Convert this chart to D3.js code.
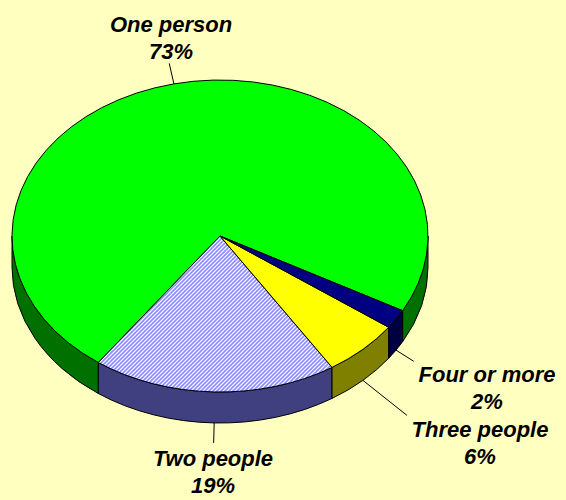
<!DOCTYPE html>
<html>
<head>
<meta charset="utf-8">
<script src="https://cdn.jsdelivr.net/npm/d3@7"></script>
<style>
  body { margin: 0; background: #FFFFC0; }
  svg { display: block; }
  .lbl { font-family: "Liberation Sans", Arial, sans-serif; font-weight: bold; font-style: italic; font-size: 22px; fill: #000; }
</style>
</head>
<body>
<div id="chart"></div>
<script>
// data
const categories = ["One person", "Two people", "Three people", "Four or more"];
const values = [73, 19, 6, 2];
const pctLabels = ["73%", "19%", "6%", "2%"];

// colours
const topColors = ["#00FF00", "url(#hatch)", "#FFFF00", "#000080"];
const sideColors = ["#007000", "#404080", "#808000", "#000040"];

// layout
const width = 566, height = 500;
const cx = 220, cy = 236, rx = 208, ry = 156, depth = 31;
const startDeg = 388.6; // screen angle where first slice begins, slices go counter-clockwise
const leaderLen = [21, 20, 53, 21];
const labelPos = [[171, 32], [213, 466], [480, 437], [487, 382]];

const svg = d3.select("#chart")
    .append("svg")
    .attr("width", width)
    .attr("height", height);

svg.append("rect")
    .attr("width", width)
    .attr("height", height)
    .attr("fill", "#FFFFC0");

// hatch pattern for the "Two people" slice
const pat = svg.append("defs").append("pattern")
    .attr("id", "hatch")
    .attr("patternUnits", "userSpaceOnUse")
    .attr("width", 4)
    .attr("height", 4);
pat.append("rect").attr("width", 4).attr("height", 4).attr("fill", "#FFFFFF");
pat.append("path")
    .attr("d", "M-1,1 l2,-2 M0,4 l4,-4 M3,5 l2,-2")
    .attr("stroke", "#8C8CFF")
    .attr("stroke-width", 1.6);

const topColor = d3.scaleOrdinal().domain(categories).range(topColors);
const sideColor = d3.scaleOrdinal().domain(categories).range(sideColors);

// d3.pie angles are measured from 12 o'clock; screen angle = pie angle - 90deg
const a0 = (startDeg + 90) * Math.PI / 180;
const pie = d3.pie().sort(null).value(d => d.value)
    .startAngle(a0)
    .endAngle(a0 - 2 * Math.PI);

const arcs = pie(categories.map((c, i) => ({ name: c, value: values[i], pct: pctLabels[i], idx: i })));

const P = (t, dy = 0) => [cx + rx * Math.cos(t), cy + ry * Math.sin(t) + dy];
const fmt = p => p[0].toFixed(2) + "," + p[1].toFixed(2);

// each slice as a screen-angle range [lo, hi] going clockwise
arcs.forEach(d => {
    d.lo = Math.min(d.startAngle, d.endAngle) - Math.PI / 2;
    d.hi = Math.max(d.startAngle, d.endAngle) - Math.PI / 2;
});

// visible side wall pieces: parts of each slice within [0, PI] (mod 2PI)
function sidePieces(lo, hi) {
    const out = [];
    for (let k = -2; k <= 2; k++) {
        const s = Math.max(lo, k * 2 * Math.PI);
        const e = Math.min(hi, k * 2 * Math.PI + Math.PI);
        if (e > s + 1e-6) out.push([s, e]);
    }
    return out;
}

const sides = svg.append("g");
arcs.forEach(d => {
    sidePieces(d.lo, d.hi).forEach(([s, e]) => {
        const path = "M" + fmt(P(s)) +
            " A" + rx + "," + ry + " 0 0 1 " + fmt(P(e)) +
            " L" + fmt(P(e, depth)) +
            " A" + rx + "," + ry + " 0 0 0 " + fmt(P(s, depth)) + " Z";
        sides.append("path")
            .attr("d", path)
            .attr("fill", sideColor(d.data.name))
            .attr("stroke", "#000")
            .attr("stroke-width", 1)
            .attr("stroke-linejoin", "round");
    });
});

// top faces
svg.append("g").selectAll("path")
    .data(arcs)
    .join("path")
    .attr("d", d => {
        const large = (d.hi - d.lo) > Math.PI ? 1 : 0;
        return "M" + cx + "," + cy + " L" + fmt(P(d.lo)) +
            " A" + rx + "," + ry + " 0 " + large + " 1 " + fmt(P(d.hi)) + " Z";
    })
    .attr("fill", d => topColor(d.data.name))
    .attr("stroke", "#000")
    .attr("stroke-width", 1)
    .attr("stroke-linejoin", "round");

// leader lines + labels
const lab = svg.append("g");
arcs.forEach((d, i) => {
    const t = (d.lo + d.hi) / 2;
    const lower = Math.sin(t) > 0;
    const p0 = P(t, lower ? depth : 0);
    const ux = Math.cos(t), uy = Math.sin(t);
    const p1 = [p0[0] + ux * leaderLen[i], p0[1] + uy * leaderLen[i]];
    if (i === 2) { // three people label sits further out, line runs toward it
        p1[0] = p0[0] + leaderLen[i] * 0.83;
        p1[1] = p0[1] + leaderLen[i] * 0.66;
    }
    lab.append("line")
        .attr("x1", p0[0]).attr("y1", p0[1])
        .attr("x2", p1[0]).attr("y2", p1[1])
        .attr("stroke", "#000")
        .attr("stroke-width", 1);

    const txt = lab.append("text")
        .attr("class", "lbl")
        .attr("text-anchor", "middle")
        .attr("x", labelPos[i][0])
        .attr("y", labelPos[i][1]);
    txt.append("tspan").attr("x", labelPos[i][0]).text(d.data.name);
    txt.append("tspan").attr("x", labelPos[i][0]).attr("dy", 27).text(d.data.pct);
});
</script>
</body>
</html>
